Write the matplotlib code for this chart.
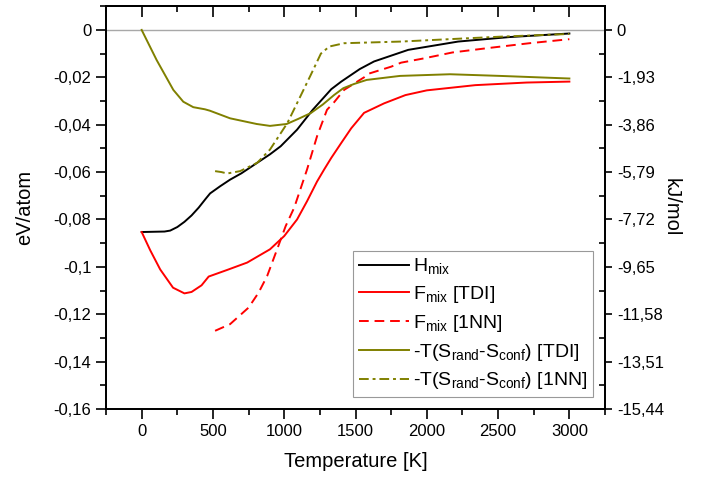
import matplotlib
matplotlib.use("Agg")
import matplotlib.pyplot as plt
from matplotlib.ticker import MultipleLocator, FuncFormatter

plt.rcParams['font.family'] = ['Liberation Sans', 'DejaVu Sans']
plt.rcParams['mathtext.fontset'] = 'custom'
plt.rcParams['mathtext.rm'] = 'Liberation Sans'
plt.rcParams['mathtext.default'] = 'regular'
plt.rcParams['axes.unicode_minus'] = False

# H_mix
t_h = [0, 160, 200, 250, 300, 350, 400, 450, 480, 550, 620, 700, 810, 900, 975,
       1090, 1200, 1330, 1400, 1530, 1630, 1870, 2220, 2580, 3000]
h_mix = [-0.0853, -0.0851, -0.0847, -0.0832, -0.0810, -0.0783, -0.0750, -0.0712,
         -0.0690, -0.0660, -0.0632, -0.0605, -0.0561, -0.0525, -0.0491, -0.0421,
         -0.0337, -0.0250, -0.0218, -0.0165, -0.0133, -0.0084, -0.0049, -0.0030,
         -0.0015]

# F_mix [TDI]
t_f_tdi = [0, 60, 130, 220, 300, 350, 420, 470, 600, 740, 900, 1000, 1090, 1160,
           1230, 1280, 1330, 1400, 1470, 1560, 1700, 1850, 2000, 2340, 2700, 3000]
f_tdi = [-0.0853, -0.0930, -0.1011, -0.1088, -0.1112, -0.1106, -0.1078, -0.1041,
         -0.1013, -0.0982, -0.0926, -0.0870, -0.0800, -0.0723, -0.0640, -0.0589,
         -0.0540, -0.0477, -0.0415, -0.0350, -0.0310, -0.0275, -0.0255, -0.0233,
         -0.0222, -0.0218]

# F_mix [1NN]
t_f_1nn = [515, 620, 750, 820, 880, 950, 1010, 1070, 1160, 1230, 1300, 1350, 1420,
           1560, 1590, 1750, 1820, 1980, 2180, 2450, 2720, 3000]
f_1nn = [-0.1270, -0.1242, -0.1172, -0.1109, -0.1039, -0.0926, -0.0828, -0.0750,
         -0.0589, -0.0449, -0.0337, -0.0305, -0.0253, -0.0200, -0.0185, -0.0155,
         -0.0138, -0.0120, -0.0095, -0.0075, -0.0056, -0.0039]

# -T(S_rand - S_conf) [TDI]
t_s_tdi = [0, 105, 222, 292, 362, 444, 479, 620, 807, 900, 1017, 1100, 1186,
           1270, 1349, 1414, 1490, 1578, 1812, 2163, 2514, 3000]
s_tdi = [0.0, -0.0127, -0.0253, -0.0303, -0.0326, -0.0335, -0.0341, -0.0373,
         -0.0397, -0.0405, -0.0397, -0.0375, -0.0351, -0.0315, -0.0275, -0.0246,
         -0.0228, -0.0211, -0.0194, -0.0187, -0.0194, -0.0205]

# -T(S_rand - S_conf) [1NN]
t_s_1nn = [515, 560, 600, 690, 810, 900, 960, 1022, 1090, 1186, 1257, 1316, 1420,
           1820, 2290, 2530, 3000]
s_1nn = [-0.0596, -0.0600, -0.0606, -0.0596, -0.0561, -0.0505, -0.0450, -0.0393,
         -0.0309, -0.0190, -0.0100, -0.0070, -0.0056, -0.0049, -0.0035, -0.0028,
         -0.0017]

EV_TO_KJ = 96.485
red = '#ff0000'
olive = '#808000'

fig = plt.figure(figsize=(7.04, 4.78), dpi=100)
ax = fig.add_axes([0.1506, 0.1444, 0.7088, 0.843])

ax.axhline(0, color='#a8a8a8', lw=1.0, zorder=1)
ax.plot(t_h, h_mix, color='black', lw=1.4, label=r'H$_{mix}$')
ax.plot(t_f_tdi, f_tdi, color=red, lw=1.4, label=r'F$_{mix}$ [TDI]')
ax.plot(t_f_1nn, f_1nn, color=red, lw=1.4, ls=(0, (5, 3)), label=r'F$_{mix}$ [1NN]')
ax.plot(t_s_tdi, s_tdi, color=olive, lw=1.4, label=r'-T(S$_{rand}$-S$_{conf}$) [TDI]')
ax.plot(t_s_1nn, s_1nn, color=olive, lw=1.4, ls=(0, (5, 2, 1.5, 2)),
        label=r'-T(S$_{rand}$-S$_{conf}$) [1NN]')

ax.set_xlim(-250, 3250)
ax.set_ylim(-0.16, 0.0101)

ax.xaxis.set_major_locator(MultipleLocator(500))
ax.xaxis.set_minor_locator(MultipleLocator(250))
ax.yaxis.set_major_locator(MultipleLocator(0.02))
ax.yaxis.set_minor_locator(MultipleLocator(0.01))

def comma_fmt(v, pos):
    if abs(v) < 1e-9:
        return '0'
    return ('%g' % round(v, 4)).replace('.', ',')

ax.yaxis.set_major_formatter(FuncFormatter(comma_fmt))
ax.tick_params(which='major', direction='out', length=7, width=1.2, labelsize=12,
               right=False, top=False)
ax.tick_params(which='minor', direction='out', length=4, width=1.2,
               right=False, top=False)

# top ticks pointing inward
top = ax.secondary_xaxis('top')
top.xaxis.set_major_locator(MultipleLocator(500))
top.xaxis.set_minor_locator(MultipleLocator(250))
top.tick_params(which='major', direction='in', length=8, width=1.2, labeltop=False)
top.tick_params(which='minor', direction='in', length=4, width=1.2)
top.spines['top'].set_linewidth(1.3)

ax2 = ax.twinx()
ax2.set_ylim(ax.get_ylim())
ax2.yaxis.set_major_locator(MultipleLocator(0.02))
ax2.yaxis.set_minor_locator(MultipleLocator(0.01))

def kj_fmt(v, pos):
    if abs(v) < 1e-9:
        return '0'
    return ('%.2f' % (v * EV_TO_KJ)).replace('.', ',')

ax2.yaxis.set_major_formatter(FuncFormatter(kj_fmt))
ax2.tick_params(which='major', direction='out', length=5, width=1.2, labelsize=12)
ax2.tick_params(which='minor', direction='in', length=4, width=1.2)
ax2.set_ylabel('kJ/mol', fontsize=14.5, rotation=270, labelpad=12)

for a in (ax, ax2):
    for s in a.spines.values():
        s.set_linewidth(1.3)

ax.set_xlabel('Temperature [K]', fontsize=14.5, labelpad=10)
ax.set_ylabel('eV/atom', fontsize=14.5, labelpad=14)

leg = ax.legend(loc='lower right', fontsize=14, frameon=True, fancybox=False,
                edgecolor='#808080', handlelength=2.6, handletextpad=0.2,
                labelspacing=0.4, borderpad=0.3, borderaxespad=0.6)
leg.get_frame().set_linewidth(0.8)

fig.savefig('out.png', dpi=100)
